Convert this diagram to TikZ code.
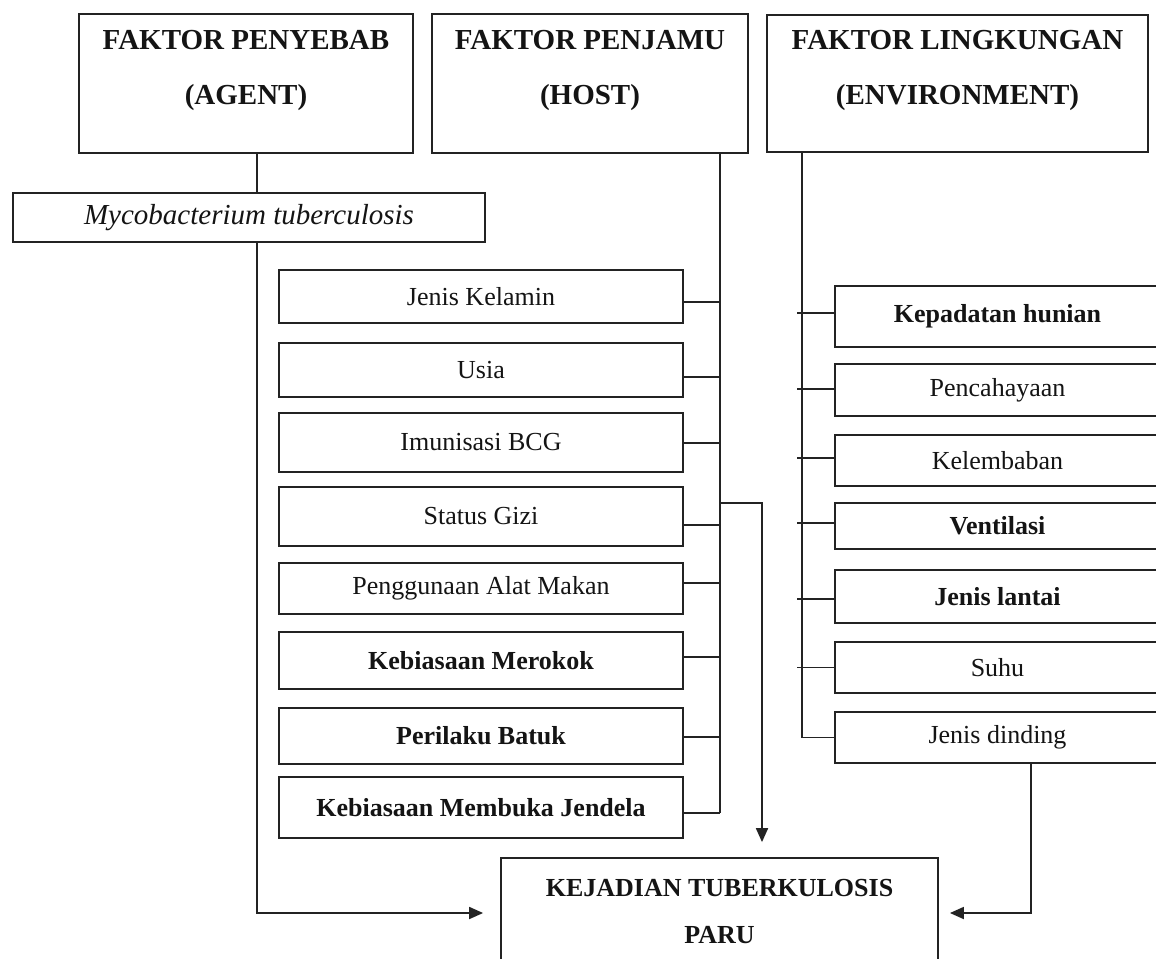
\documentclass[tikz,border=0pt]{standalone}
\usepackage{fontspec}
\setmainfont{Liberation Serif}
\usetikzlibrary{arrows.meta,calc}
\definecolor{ln}{RGB}{35,35,35}
\definecolor{tx}{RGB}{20,20,20}
\begin{document}
\begin{tikzpicture}[x=1pt,y=-1pt,line width=1.8pt,
  box/.style={draw=ln,line width=1.8pt,rectangle,inner sep=0pt,text=tx},
  htext/.style={align=center,text=tx,inner sep=0pt,font=\fontsize{29}{55}\selectfont\bfseries},
  hostbox/.style={box,minimum width=404pt,font=\fontsize{26}{30}\selectfont},
  envbox/.style={box,minimum width=325pt,font=\fontsize{26}{30}\selectfont},
  conn/.style={draw=ln,line width=1.8pt},
  arr/.style={conn,-{Triangle[length=14pt,width=12pt]}}]
\useasboundingbox (0,0) rectangle (1156,958);
\fill[white] (0,0) rectangle (1156,958);
% header boxes
\node[box,minimum width=334pt,minimum height=139pt] (agent) at (246,83.5) {};
\node[htext] (agentT) at (246,70.5) {FAKTOR PENYEBAB\\(AGENT)};
\node[box,minimum width=316pt,minimum height=139pt] (host) at (590,83.5) {};
\node[htext] (hostT) at (590,70.5) {FAKTOR PENJAMU\\(HOST)};
\node[box,minimum width=381pt,minimum height=137pt] (env) at (957.5,83.5) {};
\node[htext] (envT) at (957.5,70.5) {FAKTOR LINGKUNGAN\\(ENVIRONMENT)};
% agent
\node[box,minimum width=472pt,minimum height=49pt,font=\fontsize{29}{30}\selectfont\itshape] (myco) at (249,217.5) {Mycobacterium tuberculosis};
% host factors
\node[hostbox,minimum height=53pt] (jk) at (481,296.5) {Jenis Kelamin};
\node[hostbox,minimum height=54pt] (usia) at (481,370) {Usia};
\node[hostbox,minimum height=59pt] (bcg) at (481,442.5) {Imunisasi BCG};
\node[hostbox,minimum height=59pt] (gizi) at (481,516.5) {Status Gizi};
\node[hostbox,minimum height=51pt] (alat) at (481,588.5) {Penggunaan Alat Makan};
\node[hostbox,minimum height=57pt,font=\fontsize{26}{30}\selectfont\bfseries] (rokok) at (481,660.5) {Kebiasaan Merokok};
\node[hostbox,minimum height=56pt,font=\fontsize{26}{30}\selectfont\bfseries] (batuk) at (481,736) {Perilaku Batuk};
\node[hostbox,minimum height=61pt,font=\fontsize{26}{30}\selectfont\bfseries] (jend) at (481,807.5) {Kebiasaan Membuka Jendela};
% environment factors
\node[envbox,minimum height=61pt,font=\fontsize{26}{30}\selectfont\bfseries] (kep) at (997.5,316.5) {Kepadatan hunian};
\node[envbox,minimum height=52pt] (cah) at (997.5,390) {Pencahayaan};
\node[envbox,minimum height=51pt] (lem) at (997.5,460.5) {Kelembaban};
\node[envbox,minimum height=46pt,font=\fontsize{26}{30}\selectfont\bfseries] (vent) at (997.5,526) {Ventilasi};
\node[envbox,minimum height=53pt,font=\fontsize{26}{30}\selectfont\bfseries] (lantai) at (997.5,596.5) {Jenis lantai};
\node[envbox,minimum height=51pt] (suhu) at (997.5,667.5) {Suhu};
\node[envbox,minimum height=51pt] (dind) at (997.5,737.5) {Jenis dinding};
% outcome
\node[box,minimum width=437pt,minimum height=110pt] (kej) at (719.5,913) {};
\node[align=center,text=tx,inner sep=0pt,font=\fontsize{26}{47}\selectfont\bfseries] (kejT) at (719.5,911.5) {KEJADIAN TUBERKULOSIS\\PARU};
% bus coordinates
\coordinate (ax) at (257,0);
\coordinate (hx) at (720,0);
\coordinate (ex) at (802,0);
\coordinate (ex2) at (1031,0);
\coordinate (hb) at (720,503);
\coordinate (htip) at ($(kej.north)+(42.5,-15)$);
% agent connectors
\draw[conn] (agent.south -| ax) -- (myco.north -| ax);
\draw[arr] (myco.south -| ax) |- ($(kej.west)+(-17,0)$);
% host connectors
\draw[conn] (host.south -| hx) -- ($(jend.east -| hx)+(0,5.5)$);
\draw[conn] ($(jk.east)+(0,5.5)$) -- ($(jk.east -| hx)+(0,5.5)$);
\draw[conn] ($(usia.east)+(0,7)$) -- ($(usia.east -| hx)+(0,7)$);
\draw[conn] ($(bcg.east)+(0,0.5)$) -- ($(bcg.east -| hx)+(0,0.5)$);
\draw[conn] ($(gizi.east)+(0,8.5)$) -- ($(gizi.east -| hx)+(0,8.5)$);
\draw[conn] ($(alat.east)+(0,-5.5)$) -- ($(alat.east -| hx)+(0,-5.5)$);
\draw[conn] ($(rokok.east)+(0,-3.5)$) -- ($(rokok.east -| hx)+(0,-3.5)$);
\draw[conn] ($(batuk.east)+(0,1)$) -- ($(batuk.east -| hx)+(0,1)$);
\draw[conn] ($(jend.east)+(0,5.5)$) -- ($(jend.east -| hx)+(0,5.5)$);
\draw[arr] (hb) -| (htip);
% environment connectors
\draw[conn] (env.south -| ex) |- (dind.west);
\draw[conn] ($(kep.west)+(0,-3.5)$) -- ($(kep.west -| ex)+(-5,-3.5)$);
\draw[conn] ($(cah.west)+(0,-1)$) -- ($(cah.west -| ex)+(-5,-1)$);
\draw[conn] ($(lem.west)+(0,-2.5)$) -- ($(lem.west -| ex)+(-5,-2.5)$);
\draw[conn] ($(vent.west)+(0,-3)$) -- ($(vent.west -| ex)+(-5,-3)$);
\draw[conn] ($(lantai.west)+(0,2.5)$) -- ($(lantai.west -| ex)+(-5,2.5)$);
\draw[conn] (suhu.west) -- ($(suhu.west -| ex)+(-5,0)$);
\draw[arr] (dind.south -| ex2) |- ($(kej.east)+(11,0)$);
\end{tikzpicture}
\end{document}
